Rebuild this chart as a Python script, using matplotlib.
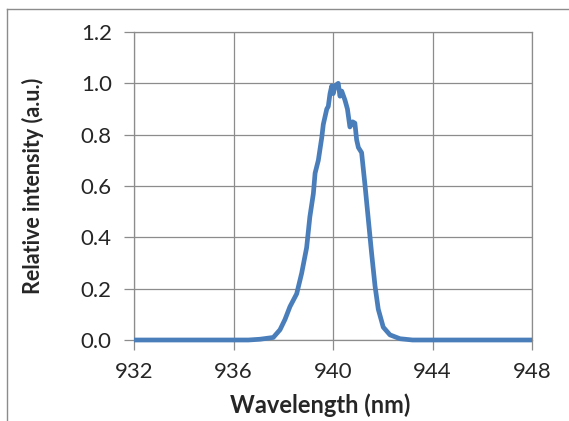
import matplotlib.pyplot as plt
from matplotlib.lines import Line2D

plt.rcParams['font.family'] = ['Lato', 'DejaVu Sans']

# spectrum
wavelength = [932.0, 933.0, 934.0, 935.0, 936.0, 936.6, 937.07, 937.6, 937.87, 938.07,
              938.27, 938.54, 938.74, 938.94, 939.07, 939.21, 939.28, 939.41, 939.55,
              939.61, 939.75, 939.81, 939.88, 939.95, 940.01, 940.08, 940.21, 940.28,
              940.35, 940.48, 940.58, 940.68, 940.79, 940.88, 940.95, 941.02, 941.15,
              941.29, 941.42, 941.55, 941.69, 941.82, 942.02, 942.29, 942.69, 943.2,
              944.0, 945.0, 946.0, 947.0, 948.0]
intensity = [0.0, 0.0, 0.0, 0.0, 0.0, 0.0, 0.003, 0.01, 0.04, 0.08,
             0.13, 0.18, 0.26, 0.36, 0.48, 0.57, 0.65, 0.70, 0.79,
             0.84, 0.90, 0.91, 0.96, 0.99, 0.96, 0.99, 1.0, 0.95,
             0.97, 0.935, 0.90, 0.83, 0.85, 0.845, 0.78, 0.75, 0.73,
             0.60, 0.47, 0.34, 0.21, 0.12, 0.05, 0.02, 0.005, 0.0,
             0.0, 0.0, 0.0, 0.0, 0.0]

x_ticks = [932, 936, 940, 944, 948]
y_ticks = [0.0, 0.2, 0.4, 0.6, 0.8, 1.0, 1.2]

fig = plt.figure(figsize=(5.69, 4.21), dpi=100)
ax = fig.add_axes([134/569, 1-340/421, 398/569, 308/421])

ax.plot(wavelength, intensity, color='#4a7ebb', lw=3.4, solid_joinstyle='round',
        solid_capstyle='butt', clip_on=False, zorder=3)

ax.set_xlim(932, 948)
ax.set_ylim(0, 1.2)
ax.set_xticks(x_ticks)
ax.set_yticks(y_ticks)
ax.set_yticklabels(['%.1f' % v for v in y_ticks])
ax.grid(True, color='#8c8c8c', lw=0.9)
for s in ax.spines.values():
    s.set_color('#8c8c8c')
    s.set_linewidth(0.9)
ax.tick_params(colors='#8c8c8c', labelcolor='#262626', labelsize=16,
               length=7, width=0.9, direction='out', pad=9)

ax.set_xlabel('Wavelength (nm)', fontsize=17, fontweight='bold', color='#262626', va='center')
ax.set_ylabel('Relative intensity (a.u.)', fontsize=15.5, fontweight='bold', color='#262626', va='center')
ax.xaxis.set_label_coords((320-134)/398, -(405-340)/308)
ax.yaxis.set_label_coords(-(134-33)/398, 0.5)

# chart area frame (left and top edges only visible)
fig.add_artist(Line2D([7/569, 7/569], [0, 1-9/421], transform=fig.transFigure, color='#8c8c8c', lw=1))
fig.add_artist(Line2D([7/569, 1], [1-9/421, 1-9/421], transform=fig.transFigure, color='#8c8c8c', lw=1))

fig.savefig('out.png', dpi=100)
